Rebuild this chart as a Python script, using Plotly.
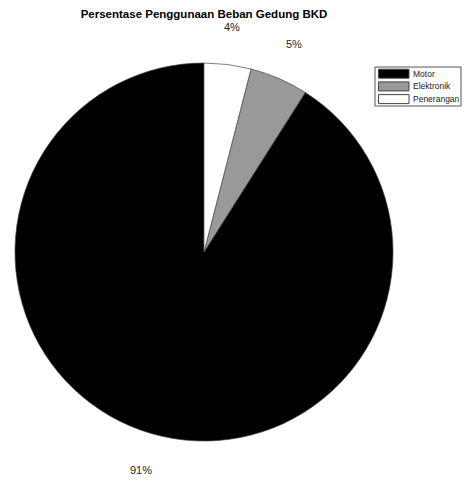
import math
import plotly.graph_objects as go

labels = ["Motor", "Elektronik", "Penerangan"]
values = [91, 5, 4]
colors = ["#000000", "#999999", "#ffffff"]
title_text = "Persentase Penggunaan Beban Gedung BKD"

W, H = 464, 484
ML, MR, MT, MB = 15, 71, 63, 43
PW = W - ML - MR
PH = H - MT - MB
FONT = "Liberation Sans, Arial, sans-serif"


def px_x(p):
    return (p - ML) / PW


def px_y(p):
    return (H - MB - p) / PH


total = sum(values)
# Plotly's counterclockwise layout ends the first slice at the start angle;
# rotate so the first slice starts at 12 o'clock (MATLAB-style)
rot = 360.0 * (total - values[0]) / total

fig = go.Figure()
fig.add_trace(go.Pie(
    labels=labels,
    values=values,
    sort=False,
    direction="counterclockwise",
    rotation=rot,
    marker=dict(colors=colors, line=dict(color="#444444", width=0.7)),
    textinfo="none",
    hoverinfo="label+percent",
    domain=dict(x=[0, 1], y=[0, 1]),
    showlegend=False,
))

# percentage labels placed outside the slices, computed from the values
cum = 0.0
k = 1.2
for lab, v in zip(labels, values):
    mid = (cum + v / 2) / total
    cum += v
    ang = 2 * math.pi * mid
    x = 0.5 - 0.5 * k * math.sin(ang)
    y = 0.5 + 0.5 * k * math.cos(ang)
    fig.add_annotation(
        x=x, y=y, xref="paper", yref="paper",
        text=f"{round(100 * v / total)}%",
        showarrow=False,
        font=dict(family=FONT, size=11, color="#262626"),
        xanchor="center", yanchor="middle",
    )

# legend box (MATLAB style)
shapes = []
lx0, lx1, ly0, ly1 = 375, 461, 67, 106
shapes.append(dict(type="rect", xref="paper", yref="paper",
                   x0=px_x(lx0), x1=px_x(lx1), y0=px_y(ly1), y1=px_y(ly0),
                   line=dict(color="#555555", width=1), fillcolor="white", layer="above"))
row_h = 12.7
for i, (lab, c) in enumerate(zip(labels, colors)):
    cy = 73.7 + i * row_h
    shapes.append(dict(type="rect", xref="paper", yref="paper",
                       x0=px_x(378.5), x1=px_x(409), y0=px_y(cy + 4.5), y1=px_y(cy - 4.5),
                       line=dict(color="#444444", width=1), fillcolor=c, layer="above"))
    fig.add_annotation(
        x=px_x(410.5), y=px_y(cy), xref="paper", yref="paper",
        text=lab, showarrow=False, xanchor="left", yanchor="middle",
        font=dict(family=FONT, size=8.5, color="#1a1a1a"),
    )

fig.update_layout(
    width=W, height=H,
    margin=dict(l=ML, r=MR, t=MT, b=MB, autoexpand=False),
    paper_bgcolor="white",
    plot_bgcolor="white",
    shapes=shapes,
    title=dict(
        text=f"<b>{title_text}</b>",
        x=(ML + PW / 2) / W, xanchor="center",
        y=1 - 14 / H, yanchor="middle",
        font=dict(family=FONT, size=11.5, color="#000000"),
    ),
    showlegend=False,
)

fig.write_html("out.html")
